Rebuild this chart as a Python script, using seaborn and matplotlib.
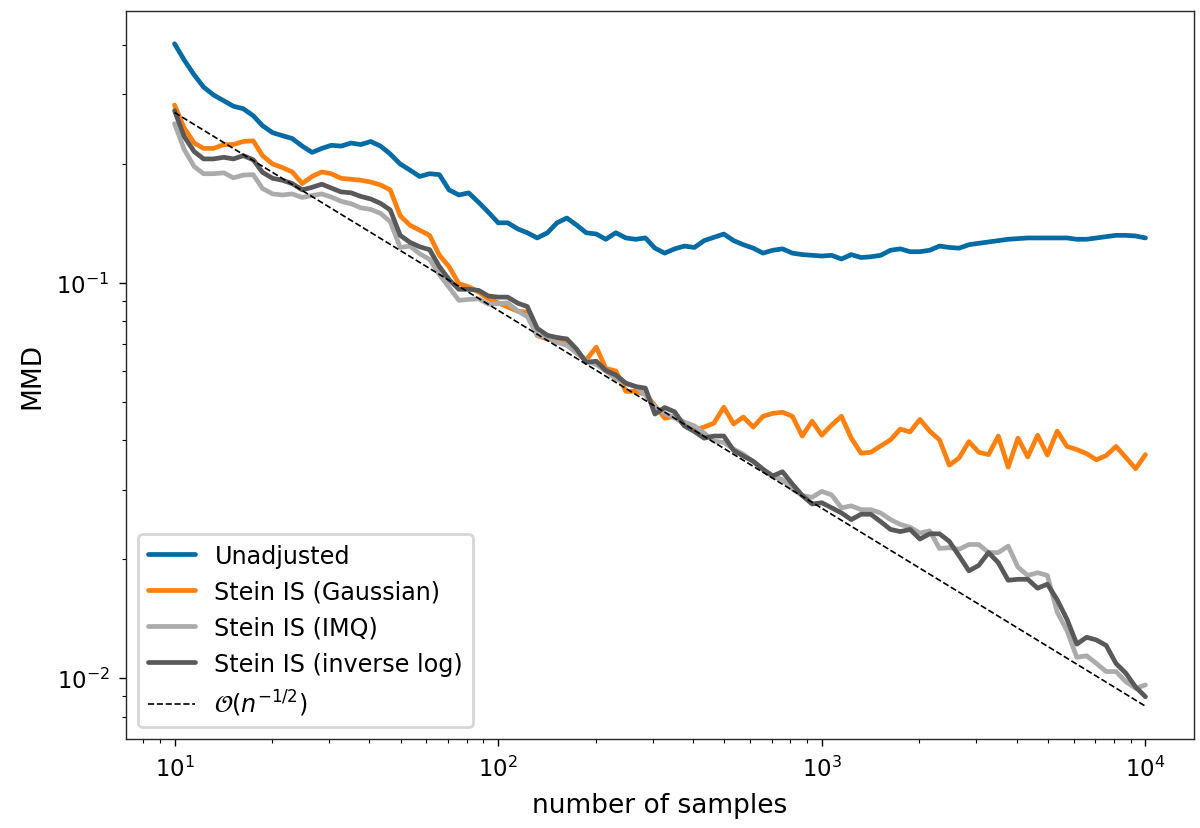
import numpy as np
import pandas as pd
import matplotlib
matplotlib.use('Agg')
import matplotlib.pyplot as plt
import seaborn as sns

# número de muestras (rejilla log, 100 puntos)
n_samples = [
    10.0, 10.7, 11.5, 12.3, 13.2, 14.2, 15.2, 16.3, 17.5, 18.7, 20.1, 21.5, 23.1, 24.8, 26.6, 28.5,
    30.5, 32.7, 35.1, 37.6, 40.4, 43.3, 46.4, 49.8, 53.4, 57.2, 61.4, 65.8, 70.5, 75.6, 81.1, 87.0, 93.3,
    100, 107, 115, 123, 132, 142, 152, 163, 175, 187, 201, 215, 231, 248, 266, 285, 305, 327,
    351, 376, 404, 433, 464, 498, 534, 572, 614, 658, 705, 756, 811, 870, 933,
    1000, 1072, 1150, 1233, 1322, 1417, 1520, 1630, 1748, 1874, 2009, 2154, 2310, 2477, 2656, 2848,
    3054, 3275, 3511, 3765, 4037, 4329, 4642, 4977, 5337, 5722, 6136, 6579, 7055, 7565, 8111, 8697,
    9326, 10000,
]

mmd_unadjusted = [
    0.403, 0.367, 0.336, 0.313, 0.299, 0.289, 0.280, 0.276, 0.265, 0.250, 0.240, 0.236, 0.232, 0.222,
    0.214, 0.219, 0.223, 0.222, 0.226, 0.224, 0.228, 0.222, 0.212, 0.200, 0.193, 0.186, 0.189, 0.188,
    0.172, 0.167, 0.169, 0.160, 0.151, 0.142, 0.142, 0.137, 0.134, 0.130, 0.134, 0.142, 0.146, 0.140,
    0.134, 0.133, 0.129, 0.134, 0.130, 0.129, 0.130, 0.1225, 0.119, 0.122, 0.124, 0.123, 0.128, 0.1305,
    0.133, 0.128, 0.125, 0.1225, 0.119, 0.121, 0.122, 0.119, 0.118, 0.1175, 0.117, 0.1175, 0.115, 0.118,
    0.116, 0.1165, 0.1175, 0.121, 0.122, 0.120, 0.120, 0.121, 0.124, 0.123, 0.1225, 0.125, 0.126, 0.127,
    0.128, 0.129, 0.1295, 0.130, 0.130, 0.130, 0.130, 0.130, 0.129, 0.129, 0.130, 0.131, 0.132, 0.132,
    0.1315, 0.130,
]

mmd_gaussian = [
    0.282, 0.247, 0.226, 0.219, 0.219, 0.224, 0.224, 0.228, 0.229, 0.210, 0.200, 0.196, 0.191, 0.1785,
    0.186, 0.191, 0.189, 0.184, 0.183, 0.182, 0.180, 0.177, 0.172, 0.148, 0.140, 0.136, 0.132, 0.1176,
    0.110, 0.0996, 0.0978, 0.0949, 0.0912, 0.0891, 0.0870, 0.0848, 0.0844, 0.0736, 0.0721, 0.0713,
    0.0703, 0.0664, 0.0639, 0.0688, 0.0608, 0.0599, 0.0532, 0.0532, 0.0523, 0.0490, 0.0455, 0.0460,
    0.0437, 0.0424, 0.0432, 0.0442, 0.0485, 0.0440, 0.0458, 0.0432, 0.0460, 0.0468, 0.0471, 0.0460,
    0.0410, 0.0447, 0.0412, 0.0437, 0.0460, 0.0405, 0.0371, 0.0373, 0.0387, 0.0401, 0.0427, 0.0420,
    0.0452, 0.0422, 0.0401, 0.0346, 0.0361, 0.0397, 0.0373, 0.0368, 0.0410, 0.0342, 0.0405, 0.0363,
    0.0412, 0.0367, 0.0422, 0.0386, 0.0379, 0.0370, 0.0357, 0.0366, 0.0386, 0.0362, 0.0339, 0.0368,
]

mmd_imq = [
    0.253, 0.218, 0.197, 0.189, 0.189, 0.190, 0.1845, 0.1875, 0.188, 0.1734, 0.168, 0.167, 0.168,
    0.1646, 0.1665, 0.168, 0.165, 0.161, 0.1587, 0.155, 0.1535, 0.150, 0.143, 0.123, 0.124, 0.1186,
    0.1147, 0.105, 0.0975, 0.0904, 0.0909, 0.0912, 0.0884, 0.0887, 0.0891, 0.0849, 0.0823, 0.0737,
    0.0727, 0.0707, 0.0696, 0.0665, 0.0636, 0.0622, 0.0599, 0.0573, 0.0557, 0.0547, 0.0521, 0.0486,
    0.0468, 0.0455, 0.0445, 0.0435, 0.0417, 0.0398, 0.0395, 0.0380, 0.0369, 0.0353, 0.0337, 0.0324,
    0.0318, 0.0301, 0.0290, 0.0287, 0.0297, 0.0291, 0.0270, 0.0273, 0.0267, 0.0267, 0.0262, 0.0252,
    0.0245, 0.0241, 0.0233, 0.0236, 0.0213, 0.0214, 0.0212, 0.0218, 0.0218, 0.0208, 0.0208, 0.0216,
    0.0191, 0.0182, 0.0185, 0.0182, 0.0147, 0.0132, 0.0113, 0.0114, 0.0109, 0.0104, 0.0104, 0.0098,
    0.00943, 0.00962,
]

mmd_invlog = [
    0.273, 0.235, 0.215, 0.206, 0.206, 0.208, 0.206, 0.210, 0.205, 0.1905, 0.184, 0.182, 0.1785,
    0.172, 0.1746, 0.1778, 0.1739, 0.170, 0.1691, 0.1656, 0.1631, 0.159, 0.153, 0.132, 0.1267, 0.1235,
    0.1214, 0.110, 0.102, 0.0964, 0.0964, 0.0958, 0.0927, 0.0921, 0.0921, 0.0889, 0.0872, 0.0768,
    0.0737, 0.0728, 0.0722, 0.0679, 0.0630, 0.0634, 0.0601, 0.0585, 0.0558, 0.0547, 0.0542, 0.0466,
    0.0484, 0.0472, 0.0435, 0.0421, 0.0405, 0.0410, 0.0410, 0.0377, 0.0365, 0.0354, 0.0338, 0.0325,
    0.0333, 0.0310, 0.0290, 0.0276, 0.0278, 0.0270, 0.0262, 0.0252, 0.0260, 0.0260, 0.0249, 0.0238,
    0.0235, 0.0238, 0.0225, 0.0232, 0.0232, 0.0222, 0.0204, 0.0187, 0.0193, 0.0208, 0.0196, 0.0177,
    0.0178, 0.0178, 0.0169, 0.0173, 0.0158, 0.0141, 0.0122, 0.0127, 0.0125, 0.0121, 0.0109, 0.0103,
    0.0095, 0.00898,
]

# recta de referencia O(n^-1/2)
ref_n = [10, 10000]
ref_mmd = [0.27, 0.0085]

series = [
    ('Unadjusted', mmd_unadjusted, '#006BA4'),
    ('Stein IS (Gaussian)', mmd_gaussian, '#FF800E'),
    ('Stein IS (IMQ)', mmd_imq, '#ABABAB'),
    ('Stein IS (inverse log)', mmd_invlog, '#595959'),
]

sns.set_theme(style='ticks', rc={
    'axes.edgecolor': '#262626', 'axes.linewidth': 0.5,
    'text.color': 'black', 'axes.labelcolor': 'black',
    'xtick.color': 'black', 'ytick.color': 'black',
    'xtick.major.size': 2.4, 'ytick.major.size': 2.4,
    'xtick.minor.size': 1.3, 'ytick.minor.size': 1.3,
    'xtick.major.width': 0.5, 'ytick.major.width': 0.5,
    'xtick.minor.width': 0.4, 'ytick.minor.width': 0.4,
    'xtick.labelsize': 8.2, 'ytick.labelsize': 8.2,
    'axes.labelsize': 9.5, 'legend.fontsize': 8.6,
})
plt.rcParams['font.family'] = ['DejaVu Sans']

fig, ax = plt.subplots(figsize=(6, 4.145), dpi=200)
fig.subplots_adjust(left=0.105, right=0.995, top=0.986, bottom=0.107)

for label, vals, col in series:
    df = pd.DataFrame({'n': n_samples, 'mmd': vals})
    sns.lineplot(data=df, x='n', y='mmd', ax=ax, color=col, linewidth=1.7, label=label)

df_ref = pd.DataFrame({'n': ref_n, 'mmd': ref_mmd})
sns.lineplot(data=df_ref, x='n', y='mmd', ax=ax, color='black', linewidth=0.6,
             linestyle='--', label=r'$\mathcal{O}(n^{-1/2})$')

ax.set_xscale('log')
ax.set_yscale('log')
ax.set_xlabel('number of samples')
ax.set_ylabel('MMD')
ax.legend(loc='lower left', frameon=True, fancybox=True, framealpha=0.8, edgecolor='0.8')

plt.savefig('out.png', dpi=200)
